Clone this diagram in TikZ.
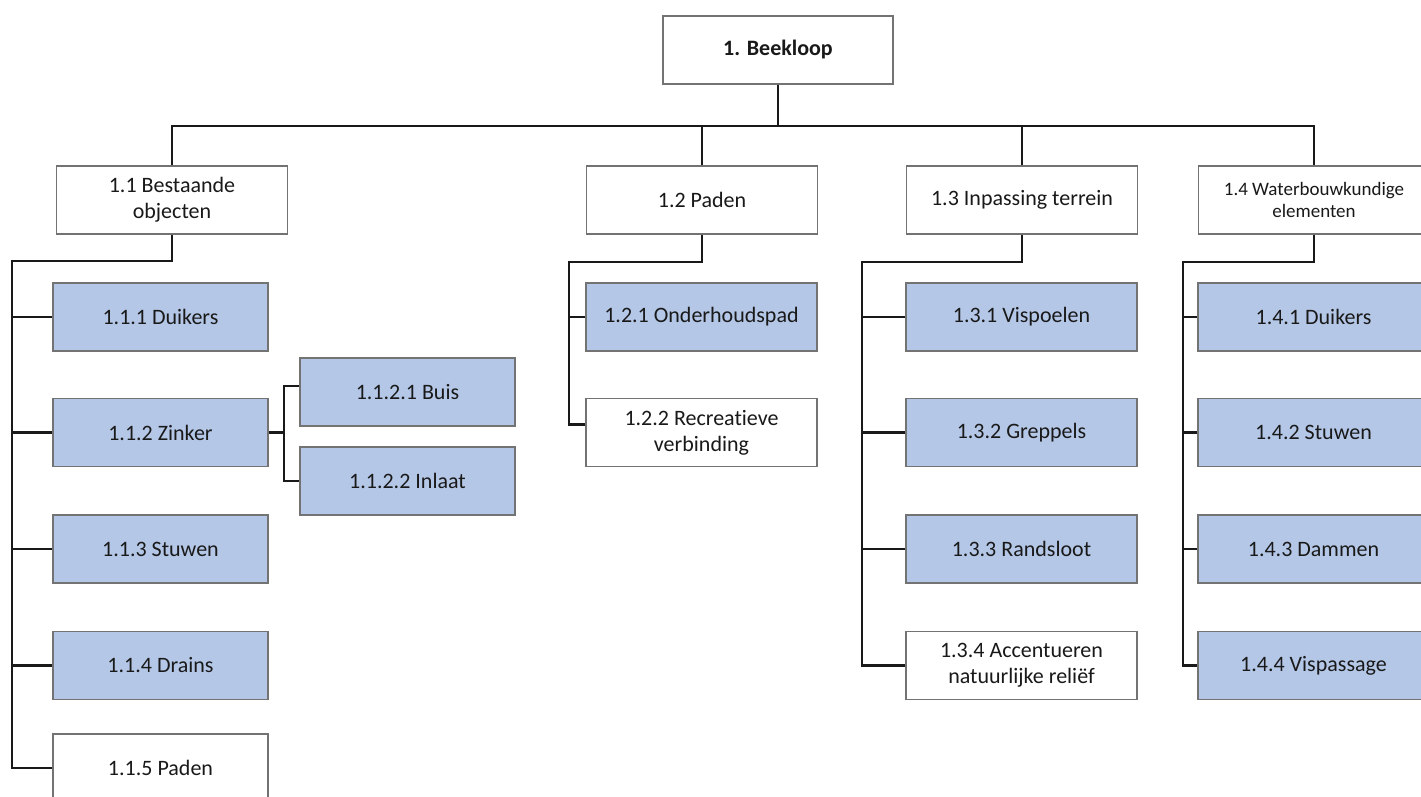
\documentclass[tikz,border=0pt]{standalone}
\usepackage{fontspec}
\setmainfont{Carlito}[Ligatures=NoCommon]
\definecolor{boxblue}{RGB}{180,199,231}
\definecolor{boxline}{RGB}{115,115,115}
\begin{document}
\begin{tikzpicture}[x=1pt,y=-1pt,
  base/.style={draw=boxline, line width=1.1pt, inner sep=0pt, align=center,
     font=\fontsize{22}{26}\selectfont, text=black!90},
  topbox/.style={base, fill=white, minimum width=231pt, minimum height=68pt},
  childw/.style={base, fill=white, minimum width=231pt, minimum height=68pt},
  childb/.style={base, fill=boxblue, minimum width=231pt, minimum height=68pt},
  narrowb/.style={childb, minimum width=215pt},
  narroww/.style={childw, minimum width=215pt},
  conn/.style={line width=2.4pt, black!90}]
\useasboundingbox (0,0) rectangle (1421,796);
\clip (0,0) rectangle (1421,796);
\fill[white] (0,0) rectangle (1421,796);
% root and level 1
\node[topbox, minimum width=230pt, font=\fontsize{22}{26}\selectfont\bfseries] (root) at (778,50) {1. Beekloop};
\node[topbox] (n11) at (172,200) {1.1 Bestaande\\objecten};
\node[topbox] (n12) at (702,200) {1.2 Paden};
\node[topbox] (n13) at (1022,200) {1.3 Inpassing terrein};
\node[topbox, font=\fontsize{19}{21.5}\selectfont] (n14) at (1314,200) {1.4 Waterbouwkundige\\elementen};
% column 1.1
\node[narrowb] (c111) at (160.5,317) {1.1.1 Duikers};
\node[narrowb] (c112) at (160.5,432.5) {1.1.2 Zinker};
\node[narrowb] (c113) at (160.5,549) {1.1.3 Stuwen};
\node[narrowb] (c114) at (160.5,665.5) {1.1.4 Drains};
\node[narroww] (c115) at (160.5,768) {1.1.5 Paden};
\node[narrowb] (c1121) at (407.5,392) {1.1.2.1 Buis};
\node[narrowb] (c1122) at (407.5,481) {1.1.2.2 Inlaat};
% column 1.2
\node[childb] (c121) at (701.5,317) {1.2.1 Onderhoudspad};
\node[childw] (c122) at (701.5,432.5) {1.2.2 Recreatieve\\verbinding};
% column 1.3
\node[childb] (c131) at (1021.5,317) {1.3.1 Vispoelen};
\node[childb] (c132) at (1021.5,432.5) {1.3.2 Greppels};
\node[childb] (c133) at (1021.5,549) {1.3.3 Randsloot};
\node[childw] (c134) at (1021.5,665.5) {1.3.4 Accentueren\\natuurlijke reliëf};
% column 1.4
\node[childb] (c141) at (1313.5,317) {1.4.1 Duikers};
\node[childb] (c142) at (1313.5,432.5) {1.4.2 Stuwen};
\node[childb] (c143) at (1313.5,549) {1.4.3 Dammen};
\node[childb] (c144) at (1313.5,665.5) {1.4.4 Vispassage};
% spine coordinates
\coordinate (bus) at (778,126);
\coordinate (s1) at (12,261);
\coordinate (s2) at (569,262);
\coordinate (s3) at (862,262);
\coordinate (s4) at (1183,262);
\coordinate (s5) at (284,432.5);
% level 1 connectors
\draw[conn] (root.south) -- (bus);
\draw[conn] (n11.north) |- (bus) -| (n14.north);
\draw[conn] (n12.north) -- (n12.north |- bus);
\draw[conn] (n13.north) -- (n13.north |- bus);
% column 1.1
\draw[conn] (n11.south) |- (s1) |- (c115.west);
\draw[conn] (s1 |- c111.west) -- (c111.west);
\draw[conn] (s1 |- c112.west) -- (c112.west);
\draw[conn] (s1 |- c113.west) -- (c113.west);
\draw[conn] (s1 |- c114.west) -- (c114.west);
\draw[conn] (c112.east) -- (s5);
\draw[conn] ([yshift=6pt]c1121.west) -| (s5) |- (c1122.west);
% column 1.2
\draw[conn] (n12.south) |- (s2) |- ([yshift=8pt]c122.west);
\draw[conn] (s2 |- c121.west) -- (c121.west);
% column 1.3
\draw[conn] (n13.south) |- (s3) |- (c134.west);
\draw[conn] (s3 |- c131.west) -- (c131.west);
\draw[conn] (s3 |- c132.west) -- (c132.west);
\draw[conn] (s3 |- c133.west) -- (c133.west);
% column 1.4
\draw[conn] (n14.south) |- (s4) |- (c144.west);
\draw[conn] (s4 |- c141.west) -- (c141.west);
\draw[conn] (s4 |- c142.west) -- (c142.west);
\draw[conn] (s4 |- c143.west) -- (c143.west);
\end{tikzpicture}
\end{document}
